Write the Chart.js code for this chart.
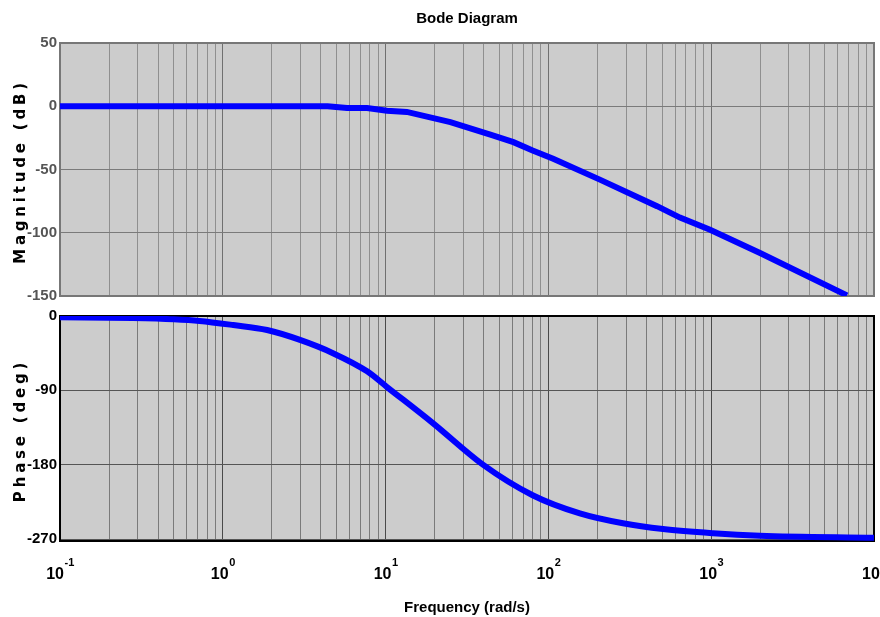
<!DOCTYPE html>
<html>
<head>
<meta charset="utf-8">
<title>Bode Diagram</title>
<script src="https://cdn.jsdelivr.net/npm/chart.js@4.4.0/dist/chart.umd.min.js"></script>
<style>
  html, body { margin: 0; padding: 0; background: #fff; overflow: hidden; }
  #wrap { position: relative; width: 880px; height: 617px; overflow: hidden; }
  canvas { position: absolute; left: 0; }
  #mag { top: 0; }
  #phase { top: 300px; }
</style>
</head>
<body>
<div id="wrap">
  <canvas id="mag" width="940" height="316"></canvas>
  <canvas id="phase" width="940" height="330"></canvas>
</div>
<script>
// values: frequency in rad/s
const magFreq = [0.1, 0.5, 1, 2, 4.4, 5.8, 7.7, 10.2, 13.5, 25, 44, 61, 80, 107, 207, 465, 643, 984, 1995, 6825];
const magDb = [0, 0, 0, 0, 0, -1.3, -1.4, -3.5, -4.5, -12.6, -22.4, -28.4, -35, -41.5, -58, -79, -88, -97.6, -116, -149.5];

const phaseFreq = [0.1, 0.28, 0.5, 0.72, 1.16, 1.87, 2.98, 4.75, 7.7, 10.2, 19.6, 39.6, 80, 156, 287, 506, 1025, 1995, 10000];
const phaseDeg = [-1.5, -2.5, -4, -6, -11, -17, -29, -45, -67, -86, -130, -180, -217, -239, -251, -258, -263, -266, -268.5];

const decades = [-1, 0, 1, 2, 3, 4];
const magTicks = [50, 0, -50, -100, -150];
const phaseTicks = [0, -90, -180, -270];
const magRange = [-150, 50];
const phaseRange = [-272.4, 0];

const sans = "'Liberation Sans', Arial, sans-serif";

// every 1..9 x 10^n line, like matlab's log grid
const freqTicks = [];
decades.forEach((d, i) => {
  const steps = i === decades.length - 1 ? 1 : 9;
  for (let m = 1; m <= steps; m++) {
    freqTicks.push({ value: m * Math.pow(10, d), major: m === 1 });
  }
});

const panelPlugin = {
  id: 'panel',
  beforeDraw(chart, args, opts) {
    const { ctx, chartArea: a } = chart;
    ctx.save();
    ctx.fillStyle = opts.background;
    ctx.fillRect(a.left, a.top, a.width, a.height);
    ctx.restore();
  },
  beforeDatasetsDraw(chart, args, opts) {
    const { ctx, chartArea: a } = chart;
    ctx.save();
    ctx.strokeStyle = opts.frame;
    ctx.lineWidth = 2;
    ctx.strokeRect(a.left, a.top, a.width, a.height);
    ctx.restore();
  },
  afterDraw(chart, args, opts) {
    const { ctx, chartArea: a } = chart;
    // matlab draws these wide, so letter spacing here
    ctx.save();
    ctx.translate(21, (a.top + a.bottom) / 2 + 2);
    ctx.rotate(-Math.PI / 2);
    ctx.font = 'bold 15px "DejaVu Sans"';
    ctx.letterSpacing = '3.8px';
    ctx.textAlign = 'center';
    ctx.textBaseline = 'middle';
    ctx.fillStyle = '#000';
    ctx.fillText(opts.yTitle, 0, 0);
    ctx.restore();

    // 10^n labels with a raised exponent
    if (!opts.decadeLabels) return;
    const xs = chart.scales.x;
    const baseY = xs.top + 38;
    ctx.save();
    ctx.fillStyle = '#000';
    ctx.textAlign = 'left';
    ctx.textBaseline = 'alphabetic';
    decades.forEach(d => {
      const px = xs.getPixelForValue(Math.pow(10, d));
      const exp = String(d);
      ctx.font = 'bold 16px ' + sans;
      const w1 = ctx.measureText('10').width;
      ctx.font = 'bold 11px ' + sans;
      const w2 = ctx.measureText(exp).width;
      const left = px - (w1 + w2) / 2;
      ctx.font = 'bold 16px ' + sans;
      ctx.fillText('10', left, baseY);
      ctx.font = 'bold 11px ' + sans;
      ctx.fillText(exp, left + w1 + 0.5, baseY - 13);
    });
    ctx.restore();
  }
};

function freqAxis(showTitle, minorColor, majorColor) {
  return {
    type: 'logarithmic',
    min: 0.1,
    max: 10000,
    afterBuildTicks: s => { s.ticks = freqTicks.map(t => ({ value: t.value, major: t.major })); },
    afterFit: s => { s.height = showTitle ? 89 : 0; },
    grid: {
      color: c => (c.tick && c.tick.major ? majorColor : minorColor),
      lineWidth: 1,
      drawTicks: false
    },
    border: { display: false },
    ticks: { display: false },
    title: {
      display: showTitle,
      text: 'Frequency (rad/s)',
      color: '#000',
      font: { family: sans, size: 15, weight: 'bold' },
      padding: { top: 0, bottom: 13 }
    }
  };
}

function valueAxis(range, tickList, labelColor, gridColor) {
  return {
    min: range[0],
    max: range[1],
    afterBuildTicks: s => { s.ticks = tickList.map(v => ({ value: v })); },
    afterFit: s => { s.width = 60; },
    grid: { color: gridColor, lineWidth: 1, drawTicks: false },
    border: { display: false },
    ticks: {
      padding: 3,
      color: labelColor,
      font: { family: sans, size: 15, weight: 'bold' }
    }
  };
}

new Chart(document.getElementById('mag'), {
  type: 'line',
  data: {
    datasets: [{
      data: magFreq.map((f, i) => ({ x: f, y: magDb[i] })),
      borderColor: '#0000ff',
      borderWidth: 6,
      pointRadius: 0,
      tension: 0
    }]
  },
  options: {
    responsive: false,
    animation: false,
    devicePixelRatio: 1,
    layout: { padding: { left: 0, right: 66, top: 0, bottom: 20 } },
    scales: {
      x: freqAxis(false, '#8f8f8f', '#707070'),
      y: valueAxis(magRange, magTicks, '#555', '#7a7a7a')
    },
    plugins: {
      legend: { display: false },
      tooltip: { enabled: false },
      title: {
        display: true,
        fullSize: false,
        text: 'Bode Diagram',
        color: '#000',
        font: { family: sans, size: 15, weight: 'bold' },
        padding: { top: 10, bottom: 15 }
      },
      panel: { background: '#cccccc', frame: '#777777', yTitle: 'Magnitude (dB)' }
    }
  },
  plugins: [panelPlugin]
});

new Chart(document.getElementById('phase'), {
  type: 'line',
  data: {
    datasets: [{
      data: phaseFreq.map((f, i) => ({ x: f, y: phaseDeg[i] })),
      borderColor: '#0000ff',
      borderWidth: 6,
      pointRadius: 0,
      cubicInterpolationMode: 'monotone'
    }]
  },
  options: {
    responsive: false,
    animation: false,
    devicePixelRatio: 1,
    layout: { padding: { left: 0, right: 66, top: 16, bottom: 0 } },
    scales: {
      x: freqAxis(true, '#7a7a7a', '#4a4a4a'),
      y: valueAxis(phaseRange, phaseTicks, '#000', '#555555')
    },
    plugins: {
      legend: { display: false },
      tooltip: { enabled: false },
      panel: { background: '#cccccc', frame: '#000000', yTitle: 'Phase (deg)', decadeLabels: true }
    }
  },
  plugins: [panelPlugin]
});
</script>
</body>
</html>
